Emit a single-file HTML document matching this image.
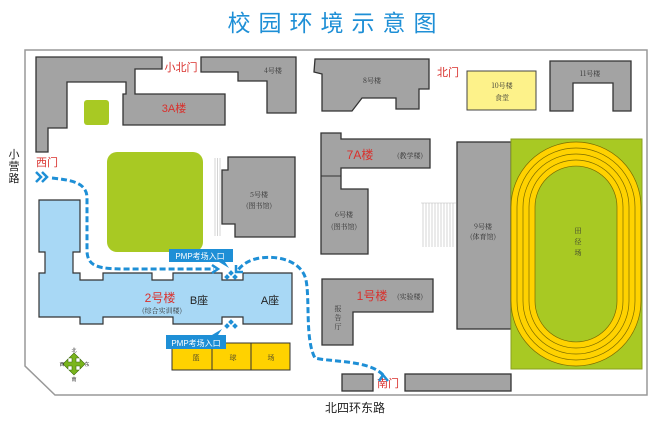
<!DOCTYPE html>
<html><head><meta charset="utf-8"><style>
body{margin:0;background:#fff;}
svg{display:block;font-family:"Liberation Sans","Noto Sans CJK SC",sans-serif;}
.b{fill:#a3a3a3;stroke:#333;stroke-width:1.3}
.s{font-size:7px;fill:#333;text-anchor:middle;font-family:"Noto Serif CJK SC","Noto Sans CJK SC",serif}
.r{fill:#d9302c;text-anchor:middle}
</style></head><body>
<svg width="672" height="427" viewBox="0 0 672 427">
<text x="336" y="31" font-size="23" fill="#1e8fd6" text-anchor="middle" letter-spacing="8">校园环境示意图</text>
<polygon points="25,50 647,50 647,395 55,395 25,366" fill="#fff" stroke="#999" stroke-width="1.5"/>
<polygon class="b" points="36,57 162,57 162,69 135,69 135,94 225,94 225,125 123,125 123,94 126,94 126,82 67,82 67,128 48,128 48,152 36,152"/>
<text x="174" y="112" font-size="11" class="r">3A楼</text>
<text x="181" y="71" font-size="11" class="r">小北门</text>
<rect x="84" y="100" width="25" height="25" rx="3" fill="#a8c923"/>
<polygon class="b" points="201,57 296,57 296,113 267,113 267,81 238,81 238,72 201,72"/>
<text x="273" y="73" class="s">4号楼</text>
<rect x="107" y="152" width="96" height="100" rx="10" fill="#a8c923"/>
<g stroke="#aaa" stroke-width="0.5"><line x1="215" y1="158" x2="215" y2="236"/><line x1="217.5" y1="158" x2="217.5" y2="236"/><line x1="220" y1="158" x2="220" y2="236"/></g>
<polygon class="b" points="228,157 295,157 295,237 235,237 235,224 222,224 222,170 228,170"/>
<text x="259" y="197" class="s">5号楼</text><text x="259" y="208" class="s">(图书馆)</text>
<polygon class="b" points="315,59 429,59 429,89 419,89 419,109 396,109 396,98 362,98 352,111 322,111 322,74 314,72"/>
<text x="372" y="83" class="s">8号楼</text>
<text x="448" y="76" font-size="11" class="r">北门</text>
<rect x="467" y="71" width="69" height="39" fill="#fdf28a" stroke="#444"/>
<text x="502" y="88" class="s">10号楼</text><text x="502" y="100" class="s">食堂</text>
<polygon class="b" points="550,61 631,61 631,111 613,111 613,83 573,83 573,111 550,111"/>
<text x="590" y="76" class="s">11号楼</text>
<polygon class="b" points="321,133 341,133 341,139 430,139 430,168 341,168 341,189 368,189 368,254 321,254"/>
<line x1="321" y1="176" x2="341" y2="176" stroke="#333"/>
<text x="360" y="159" font-size="12" class="r">7A楼</text>
<text x="410" y="158" class="s">(教学楼)</text>
<text x="344" y="217" class="s">6号楼</text><text x="344" y="229" class="s">(图书馆)</text>
<g stroke="#bbb" stroke-width="0.6"><line x1="421" y1="203" x2="456" y2="203"/><line x1="423" y1="203" x2="423" y2="247"/><line x1="426" y1="203" x2="426" y2="247"/><line x1="429" y1="203" x2="429" y2="247"/><line x1="432" y1="203" x2="432" y2="247"/><line x1="435" y1="203" x2="435" y2="247"/><line x1="438" y1="203" x2="438" y2="247"/><line x1="441" y1="203" x2="441" y2="247"/><line x1="444" y1="203" x2="444" y2="247"/><line x1="447" y1="203" x2="447" y2="247"/><line x1="450" y1="203" x2="450" y2="247"/><line x1="453" y1="203" x2="453" y2="247"/></g>
<rect class="b" x="457" y="142" width="54" height="187"/>
<text x="483" y="229" class="s">9号楼</text><text x="483" y="239" class="s">(体育馆)</text>
<rect x="511" y="139" width="131" height="230" fill="#a8c923" stroke="#8aa020"/>
<path d="M523,207 A53,53 0 0 1 629,207 L629,301 A53,53 0 0 1 523,301 Z" fill="none" stroke="#ffd200" stroke-width="24"/>
<g fill="none" stroke="#7a6a00" stroke-width="0.7">
<path d="M511,207 A65,65 0 0 1 641,207 L641,301 A65,65 0 0 1 511,301 Z"/>
<path d="M517,207 A59,59 0 0 1 635,207 L635,301 A59,59 0 0 1 517,301 Z"/>
<path d="M523,207 A53,53 0 0 1 629,207 L629,301 A53,53 0 0 1 523,301 Z"/>
<path d="M529,207 A47,47 0 0 1 623,207 L623,301 A47,47 0 0 1 529,301 Z"/>
<path d="M535,207 A41,41 0 0 1 617,207 L617,301 A41,41 0 0 1 535,301 Z"/>
</g>
<text x="578" y="233" class="s">田</text><text x="578" y="244" class="s">径</text><text x="578" y="255" class="s">场</text>
<polygon class="b" points="322,279 433,279 433,312 353,312 353,345 322,345"/>
<text x="372" y="300" font-size="12" class="r">1号楼</text>
<text x="410" y="299" class="s">(实验楼)</text>
<text x="338" y="311" class="s">报</text><text x="338" y="320" class="s">告</text><text x="338" y="329" class="s">厅</text>
<rect class="b" x="342" y="374" width="31" height="17"/>
<rect class="b" x="405" y="374" width="106" height="17"/>
<text x="388" y="387" font-size="11" class="r">南门</text>
<text x="355" y="412" font-size="12" fill="#222" text-anchor="middle">北四环东路</text>
<polygon points="39,200 80,200 80,252 73,252 73,273 80,273 80,280 103,280 103,273 152,273 152,280 173,280 173,273 222,273 222,280 243,280 243,273 292,273 292,324 243,324 243,317 222,317 222,324 173,324 173,317 103,317 103,324 80,324 80,317 39,317 39,273 45,273 45,252 39,252" fill="#a8d8f5" stroke="#333" stroke-width="1.2"/>
<text x="160" y="302" font-size="12" class="r">2号楼</text>
<text x="199" y="304" font-size="11" fill="#222" text-anchor="middle">B座</text>
<text x="270" y="304" font-size="11" fill="#222" text-anchor="middle">A座</text>
<text x="162" y="313" class="s">(综合实训楼)</text>
<rect x="172" y="343" width="118" height="27" fill="#ffd200" stroke="#333"/>
<line x1="212" y1="343" x2="212" y2="370" stroke="#333"/><line x1="251" y1="343" x2="251" y2="370" stroke="#333"/>
<text x="196" y="360" class="s">篮</text><text x="233" y="360" class="s">球</text><text x="271" y="360" class="s">场</text>
<text x="47" y="166" font-size="11" class="r">西门</text>
<text x="14" y="158" font-size="11" fill="#222" text-anchor="middle">小</text><text x="14" y="170" font-size="11" fill="#222" text-anchor="middle">营</text><text x="14" y="182" font-size="11" fill="#222" text-anchor="middle">路</text>
<g fill="none" stroke="#1e8fd6" stroke-width="3" stroke-dasharray="6,3">
<path d="M52,178 C70,180 87,182 87,198 L87,250 C87,268 100,269 130,269 L214,269"/>
<path d="M383,375 C370,360 330,362 315,358 C305,340 310,300 306,280 C302,262 280,255 260,258 C248,260 242,265 238,270"/>
</g>
<g fill="none" stroke="#1e8fd6" stroke-width="2.5"><path d="M36,172 L41,177 L36,182"/><path d="M42,172 L47,177 L42,182"/><path d="M212,265 L218,269 L212,273"/><path d="M236,265 L236,272 L243,272"/><path d="M379,381 L383,375 L388,381"/></g>
<g fill="#1e8fd6"><rect x="229" y="271" width="4" height="4" transform="rotate(45 231 273)"/><rect x="233" y="275" width="4" height="4" transform="rotate(45 235 277)"/><rect x="225" y="275" width="4" height="4" transform="rotate(45 227 277)"/>
<rect x="229" y="320" width="4" height="4" transform="rotate(45 231 322)"/><rect x="225" y="324" width="4" height="4" transform="rotate(45 227 326)"/><rect x="233" y="324" width="4" height="4" transform="rotate(45 235 326)"/></g>
<path d="M169,249 h64 v13 h-8 l4,6 l-10,-6 h-50 z" fill="#1e8fd6"/>
<text x="200" y="259" font-size="8" fill="#fff" text-anchor="middle">PMP考场入口</text>
<path d="M166,335 h46 l10,-6 l-4,6 h8 v14 h-60 z" fill="#1e8fd6"/>
<text x="196" y="346" font-size="8" fill="#fff" text-anchor="middle">PMP考场入口</text>
<path d="M74,353 l5,5 h-3 v4 h4 v-3 l5,5 l-5,5 v-3 h-4 v4 h3 l-5,5 l-5,-5 h3 v-4 h-4 v3 l-5,-5 l5,-5 v3 h4 v-4 h-3 z" fill="#7ab51d" stroke="#3d6b0a" stroke-width="0.6"/>
<text x="74" y="352" font-size="5" fill="#333" text-anchor="middle">北</text>
<text x="74" y="381" font-size="5" fill="#333" text-anchor="middle">南</text>
<text x="62" y="366" font-size="5" fill="#333" text-anchor="middle">西</text>
<text x="87" y="366" font-size="5" fill="#333" text-anchor="middle">东</text>
</svg>
</body></html>
